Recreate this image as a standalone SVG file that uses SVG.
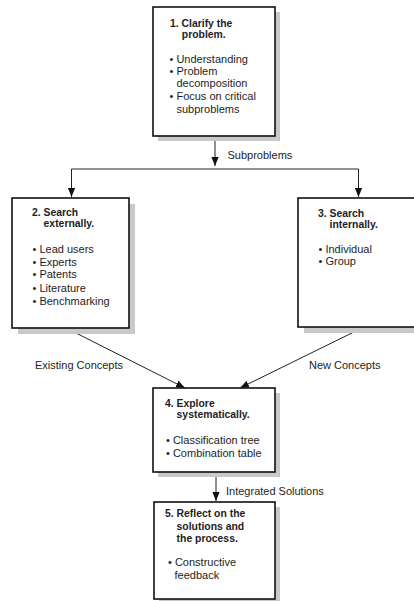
<svg xmlns="http://www.w3.org/2000/svg" width="414" height="601" viewBox="0 0 414 601">
<defs>
<style>
.box{fill:#fff;stroke:#111;stroke-width:1.6}
.sh{fill:#c9c9c9}
.t{font-family:"Liberation Sans",Arial,Helvetica,sans-serif;font-size:11px;fill:#1d1d26}
.b{font-weight:bold;font-size:10.4px}
.c{fill:none;stroke:#222;stroke-width:1}
</style>
<marker id="ah" viewBox="0 0 10 8" refX="10" refY="4" markerWidth="9" markerHeight="7.5" markerUnits="userSpaceOnUse" orient="auto">
<path d="M0,0 L10,4 L0,8 z" fill="#111"/>
</marker>
</defs>
<rect width="414" height="601" fill="#fff"/>
<g id="connectors">
<path class="c" d="M215 137 V166" marker-end="url(#ah)"/>
<path class="c" d="M71.5 169 H358.5"/>
<path class="c" d="M71.5 169 V197" marker-end="url(#ah)"/>
<path class="c" d="M358.5 169 V197" marker-end="url(#ah)"/>
<path class="c" d="M68 329 L185 388" marker-end="url(#ah)"/>
<path class="c" d="M362 328 L240 388" marker-end="url(#ah)"/>
<path class="c" d="M216 473 V501" marker-end="url(#ah)"/>
<text class="t" x="227.5" y="158.5">Subproblems</text>
<text class="t" x="35" y="369">Existing Concepts</text>
<text class="t" x="309" y="369">New Concepts</text>
<text class="t" x="226" y="494.5">Integrated Solutions</text>
</g>
<g id="node1">
<rect class="sh" x="158" y="12" width="122" height="129"/>
<rect class="box" x="153" y="7" width="122" height="129"/>
<text class="t b" x="170" y="26.5">1. Clarify the</text>
<text class="t b" x="181.8" y="38">problem.</text>
<text class="t" x="169.5" y="63">• Understanding</text>
<text class="t" x="169.5" y="75">• Problem</text>
<text class="t" x="176.5" y="86.5">decomposition</text>
<text class="t" x="169.5" y="100">• Focus on critical</text>
<text class="t" x="176.5" y="112.5">subproblems</text>
</g>
<g id="node2">
<rect class="sh" x="18" y="204" width="117" height="130"/>
<rect class="box" x="12" y="198" width="117" height="130"/>
<text class="t b" x="32" y="215.5">2. Search</text>
<text class="t b" x="43.6" y="227">externally.</text>
<text class="t" x="32.5" y="253">• Lead users</text>
<text class="t" x="32.5" y="265.5">• Experts</text>
<text class="t" x="32.5" y="278">• Patents</text>
<text class="t" x="32.5" y="291.5">• Literature</text>
<text class="t" x="32.5" y="304.5">• Benchmarking</text>
</g>
<g id="node3">
<rect class="sh" x="304" y="204" width="130" height="129"/>
<rect class="box" x="298" y="198" width="130" height="129"/>
<text class="t b" x="318" y="216.5">3. Search</text>
<text class="t b" x="329.6" y="227.5">internally.</text>
<text class="t" x="318.5" y="252.5">• Individual</text>
<text class="t" x="318.5" y="265">• Group</text>
</g>
<g id="node4">
<rect class="sh" x="158" y="393" width="122" height="84"/>
<rect class="box" x="153" y="388" width="122" height="84"/>
<text class="t b" x="165" y="406.5">4. Explore</text>
<text class="t b" x="176.6" y="417.5">systematically.</text>
<text class="t" x="166" y="443.5">• Classification tree</text>
<text class="t" x="166" y="456.5">• Combination table</text>
</g>
<g id="node5">
<rect class="sh" x="159" y="507" width="121" height="97"/>
<rect class="box" x="154" y="502" width="121" height="97"/>
<text class="t b" x="165" y="517">5. Reflect on the</text>
<text class="t b" x="176.6" y="529.5">solutions and</text>
<text class="t b" x="176.6" y="542">the process.</text>
<text class="t" x="168" y="566">• Constructive</text>
<text class="t" x="174.5" y="579">feedback</text>
</g>
</svg>
